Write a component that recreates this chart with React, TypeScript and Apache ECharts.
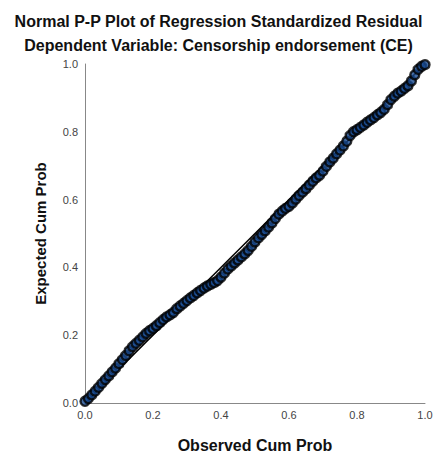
import React, { useEffect, useRef } from "react";
import * as echarts from "echarts";

const titleText = "Normal P-P Plot of Regression Standardized Residual";
const subtitleText = "Dependent Variable: Censorship endorsement (CE)";
const xName = "Observed Cum Prob";
const yName = "Expected Cum Prob";

const observed: number[] = [
  0.0, 0.01, 0.02, 0.03, 0.04, 0.05, 0.06, 0.07, 0.08, 0.09,
  0.1, 0.11, 0.12, 0.13, 0.14, 0.15, 0.16, 0.17, 0.18, 0.19,
  0.2, 0.21, 0.22, 0.23, 0.24, 0.25, 0.26, 0.27, 0.28, 0.29,
  0.3, 0.31, 0.32, 0.33, 0.34, 0.35, 0.36, 0.37, 0.38, 0.39,
  0.4, 0.41, 0.42, 0.43, 0.44, 0.45, 0.46, 0.47, 0.48, 0.49,
  0.5, 0.51, 0.52, 0.53, 0.54, 0.55, 0.56, 0.57, 0.58, 0.59,
  0.6, 0.61, 0.62, 0.63, 0.64, 0.65, 0.66, 0.67, 0.68, 0.69,
  0.7, 0.71, 0.72, 0.73, 0.74, 0.75, 0.76, 0.77, 0.78, 0.79,
  0.8, 0.81, 0.82, 0.83, 0.84, 0.85, 0.86, 0.87, 0.88, 0.89,
  0.9, 0.91, 0.92, 0.93, 0.94, 0.95, 0.96, 0.97, 0.98, 0.99, 1.0,
];

const expected: number[] = [
  0.005, 0.013, 0.024, 0.035, 0.046, 0.058, 0.069, 0.08, 0.092, 0.103,
  0.116, 0.128, 0.14, 0.154, 0.166, 0.176, 0.185, 0.195, 0.205, 0.213,
  0.22, 0.228, 0.237, 0.246, 0.254, 0.26, 0.267, 0.278, 0.286, 0.294,
  0.302, 0.31, 0.317, 0.325, 0.332, 0.339, 0.345, 0.35, 0.355, 0.361,
  0.371, 0.383, 0.395, 0.404, 0.413, 0.422, 0.431, 0.44, 0.45, 0.462,
  0.475, 0.487, 0.497, 0.508, 0.519, 0.531, 0.544, 0.557, 0.566, 0.574,
  0.58, 0.59, 0.601, 0.612, 0.622, 0.632, 0.643, 0.654, 0.664, 0.672,
  0.684, 0.698, 0.711, 0.722, 0.735, 0.746, 0.758, 0.772, 0.789, 0.8,
  0.806, 0.813, 0.82, 0.828, 0.835, 0.842, 0.85, 0.857, 0.866, 0.88,
  0.895, 0.905, 0.914, 0.92, 0.928, 0.936, 0.95, 0.968, 0.984, 0.993, 0.998,
];

const referenceLine: number[][] = [
  [0, 0],
  [1, 1],
];

const FONT = "'Liberation Sans', Arial, sans-serif";

export default function App() {
  const ref = useRef<HTMLDivElement>(null);
  useEffect(() => {
    if (!ref.current) return;
    const chart = echarts.init(ref.current, null, { renderer: "svg" });
    const points = observed.map((o, i) => [o, expected[i]]);
    chart.setOption({
      animation: false,
      backgroundColor: "#ffffff",
      title: [
        {
          text: titleText,
          left: "center",
          top: 8,
          textStyle: { fontFamily: FONT, fontSize: 16, fontWeight: "bold", color: "#111" },
        },
        {
          text: subtitleText,
          left: "center",
          top: 32,
          textStyle: { fontFamily: FONT, fontSize: 16, fontWeight: "bold", color: "#111" },
        },
      ],
      grid: { left: 85, right: 12, top: 64, bottom: 56, containLabel: false },
      xAxis: {
        type: "value",
        min: 0,
        max: 1,
        interval: 0.2,
        name: xName,
        nameLocation: "middle",
        nameGap: 34,
        nameTextStyle: { fontFamily: FONT, fontSize: 16, fontWeight: "bold", color: "#111" },
        axisLine: { lineStyle: { color: "#888", width: 1 } },
        axisTick: { show: false },
        splitLine: { show: false },
        axisLabel: {
          margin: 6,
          fontFamily: FONT,
          fontSize: 11,
          color: "#444",
          formatter: (v: number) => v.toFixed(1),
        },
      },
      yAxis: {
        type: "value",
        min: 0,
        max: 1,
        interval: 0.2,
        name: yName,
        nameLocation: "middle",
        nameGap: 37,
        nameTextStyle: { fontFamily: FONT, fontSize: 15, fontWeight: "bold", color: "#111" },
        axisLine: { show: true, lineStyle: { color: "#888", width: 1 } },
        axisTick: { show: false },
        splitLine: { show: false },
        axisLabel: {
          margin: 7,
          fontFamily: FONT,
          fontSize: 11,
          color: "#444",
          formatter: (v: number) => v.toFixed(1),
        },
      },
      series: [
        {
          type: "line",
          data: referenceLine,
          symbol: "none",
          lineStyle: { color: "#000", width: 1.5 },
          silent: true,
          z: 2,
        },
        {
          type: "scatter",
          data: points,
          symbol: "circle",
          symbolSize: 9,
          itemStyle: { color: "#17498f", borderColor: "#000", borderWidth: 2.4 },
          z: 3,
        },
      ],
    });
    return () => chart.dispose();
  }, []);
  return (
    <div
      ref={ref}
      style={{ position: "absolute", left: 0, top: 0, width: 437, height: 459 }}
    />
  );
}
